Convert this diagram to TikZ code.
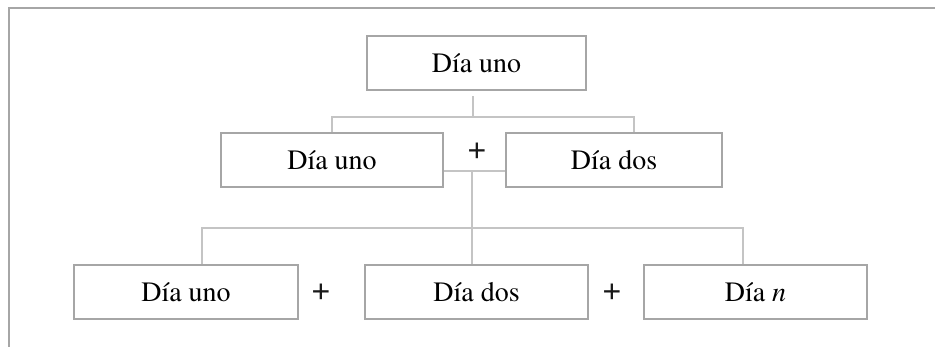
\documentclass[tikz,border=0pt]{standalone}
\usepackage{fontspec}
\newfontfamily\dayfont{texgyretermes}[Extension=.otf,UprightFont=*-regular,ItalicFont=*-italic]
\newfontfamily\plusfont{Liberation Sans}
\begin{document}
\begin{tikzpicture}[x=1pt,y=-1pt,
  daybox/.style={draw=boxgray,line width=1.8pt,rectangle,inner sep=0pt,minimum height=54pt,
    font=\dayfont\fontsize{28}{30}\selectfont,text=black},
  conn/.style={draw=linegray,line width=1.6pt},
  plussign/.style={inner sep=0pt,font=\plusfont\fontsize{32}{34}\selectfont,text=black!90}]
\definecolor{boxgray}{HTML}{A6A6A6}
\definecolor{linegray}{HTML}{C4C4C4}
\useasboundingbox (0,0) rectangle (935,346);
% frame
\draw[draw=boxgray,line width=2pt] (9,350) -- (9,7.5) -- (940,7.5);
% nodes
\node[daybox,minimum width=219pt] (top) at (476.5,63) {Día uno};
\node[daybox,minimum width=222pt] (ml) at (332,160) {Día uno};
\node[daybox,minimum width=216pt] (mr) at (614,160) {Día dos};
\node[plussign] (p1) at (477,152) {+};
\node[daybox,minimum width=224pt] (b1) at (186,292) {Día uno};
\node[daybox,minimum width=223pt] (b2) at (476.5,292) {Día dos};
\node[daybox,minimum width=223pt] (b3) at (755.5,292) {Día \textit{n}};
\node[plussign] (p2) at (321,293) {+};
\node[plussign] (p3) at (612,293) {+};
% junctions
\coordinate (t0) at (473,96);
\coordinate (t1) at (473,117);
\coordinate (m0) at (472,171);
\coordinate (m1) at (472,228);
% connectors
\draw[conn] (t0) -- (t1);
\draw[conn] (t1) -| (332,117) -- (ml.north -| 332,0);
\draw[conn] (t1) -| (634,117) -- (mr.north -| 634,0);
\draw[conn] (ml.east |- m0) -- (mr.west |- m0);
\draw[conn] (m0) -- (b2.north -| m0);
\draw[conn] (m1) -| (202,228) -- (b1.north -| 202,0);
\draw[conn] (m1) -| (743,228) -- (b3.north -| 743,0);
\end{tikzpicture}
\end{document}
